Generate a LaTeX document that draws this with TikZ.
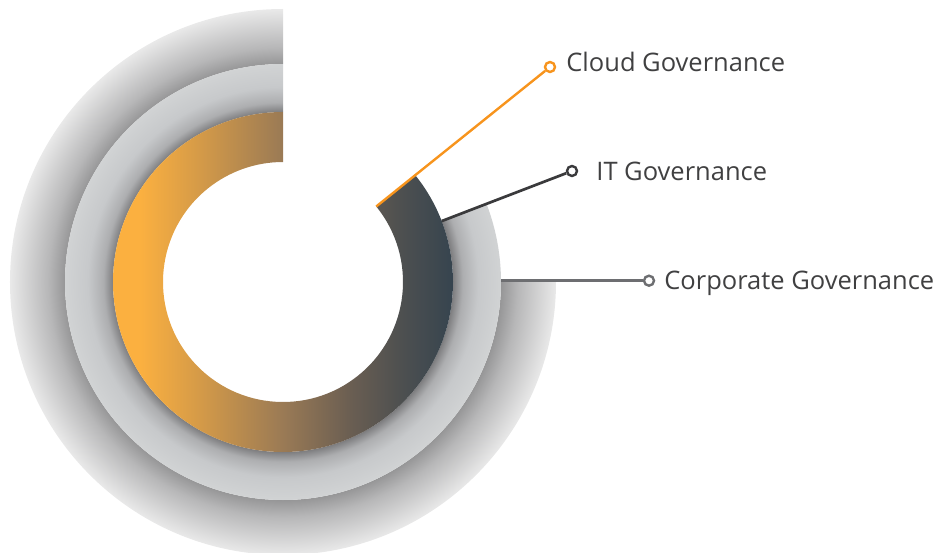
\documentclass[tikz,border=0pt]{standalone}
\usepackage{fontspec}
\setmainfont{Open Sans}
\usetikzlibrary{positioning}
\definecolor{cloudorange}{HTML}{F7941D}
\definecolor{itdark}{HTML}{3A3A3C}
\definecolor{corpgray}{HTML}{6D6E71}
\definecolor{labeltext}{HTML}{404041}
\definecolor{outA}{HTML}{959596}
\definecolor{outB}{HTML}{B7B7B8}
\definecolor{outC}{HTML}{E9E9E9}
\definecolor{midA}{HTML}{7E7E80}
\definecolor{midB}{HTML}{ADAEB0}
\definecolor{midC}{HTML}{C7C9CB}
\definecolor{midD}{HTML}{D1D3D4}
\definecolor{inA}{HTML}{FBB040}
\definecolor{inB}{HTML}{D49A48}
\definecolor{inC}{HTML}{9A7A55}
\definecolor{inD}{HTML}{6A5E52}
\definecolor{inE}{HTML}{4E5050}
\definecolor{inF}{HTML}{36444F}
\pgfdeclareradialshading{outerring}{\pgfpoint{0bp}{0bp}}{color(0bp)=(outA); color(19.9bp)=(outA); color(21.5bp)=(outB); color(25bp)=(outC); color(50bp)=(outC)}
\pgfdeclareradialshading{middlering}{\pgfpoint{0bp}{0bp}}{color(0bp)=(midA); color(19.5bp)=(midA); color(20.6bp)=(midB); color(22.4bp)=(midC); color(25bp)=(midD); color(50bp)=(midD)}
\pgfdeclarehorizontalshading{innerring}{100bp}{color(0bp)=(inA); color(29bp)=(inA); color(37.8bp)=(inB); color(50bp)=(inC); color(59.9bp)=(inD); color(67.2bp)=(inE); color(75bp)=(inF); color(100bp)=(inF)}
\begin{document}
\begin{tikzpicture}[x=1pt, y=1pt,
    dot/.style={circle, draw=#1, fill=white, line width=2.4pt, inner sep=0pt, minimum size=10pt},
    lbl/.style={inner sep=0pt, text=labeltext, text height=18pt, text depth=0pt, font=\fontsize{25.5}{30}\selectfont}]
    \useasboundingbox (-283,-270) rectangle (651,282);
    \foreach \rin/\rout/\stop/\shd in {218/273/360/outerring, 170/218/381/middlering}{
        \begin{scope}
            \clip (90:\rout) arc[start angle=90, end angle=\stop, radius=\rout]
                -- (\stop:\rin) arc[start angle=\stop, end angle=90, radius=\rin] -- cycle;
            \shade[shading=\shd] (0,0) circle[radius=\rout];
        \end{scope}
    }
    \begin{scope}
        \clip (90:170) arc[start angle=90, end angle=399, radius=170]
            -- (399:120) arc[start angle=399, end angle=90, radius=120] -- cycle;
        \shade[shading=innerring] (-170,-170) rectangle (170,170);
    \end{scope}
    \coordinate (cloudfoot) at (39:120);
    \coordinate (itfoot) at (21:170);
    \coordinate (corpfoot) at (218,1.3);
    \node[dot=cloudorange] (clouddot) at (267,215) {};
    \node[dot=itdark] (itdot) at (289,111) {};
    \node[dot=corpgray] (corpdot) at (366,1.3) {};
    \draw[cloudorange, line width=2.4pt] (cloudfoot) -- (clouddot);
    \draw[itdark, line width=2.7pt] (itfoot) -- (itdot);
    \draw[corpgray, line width=2.7pt] (corpfoot) -- (corpdot);
    \node[lbl, right=10pt of clouddot, yshift=4.5pt] (cloudlbl) {Cloud Governance};
    \node[lbl, right=18pt of itdot] (itlbl) {IT Governance};
    \node[lbl, right=9pt of corpdot] (corplbl) {Corporate Governance};
\end{tikzpicture}
\end{document}
